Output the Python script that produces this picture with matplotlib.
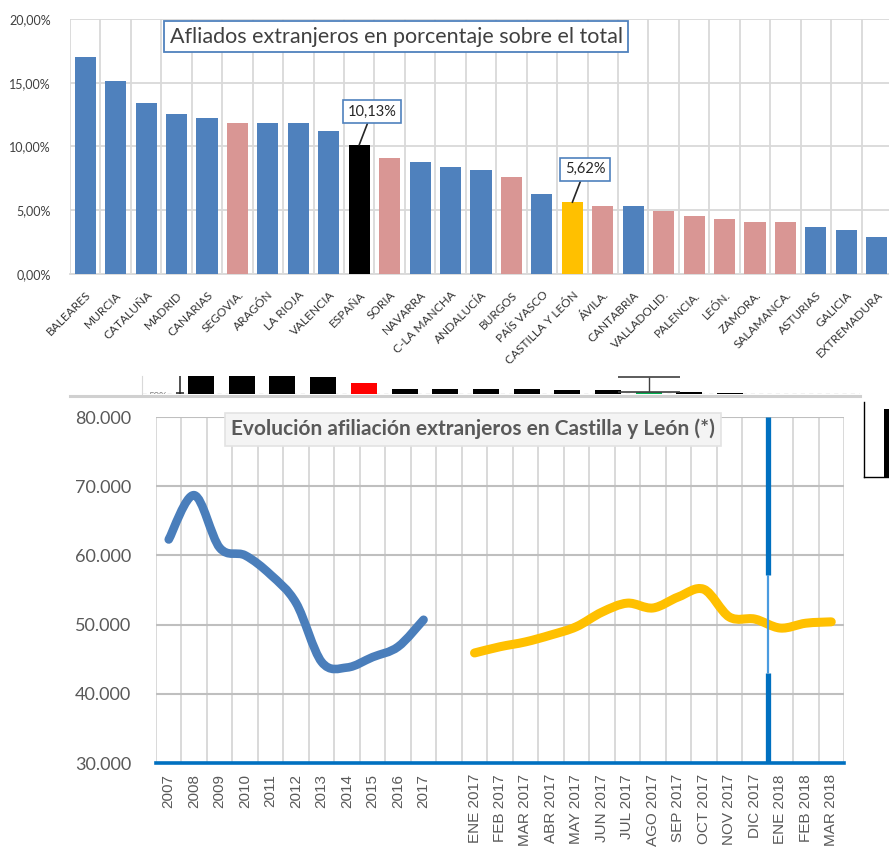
import numpy as np
import matplotlib
matplotlib.use('Agg')
import matplotlib.pyplot as plt
from matplotlib.path import Path
from matplotlib.patches import PathPatch
from matplotlib.ticker import FuncFormatter, MultipleLocator

plt.rcParams['font.family'] = ['Lato', 'DejaVu Sans']

# afiliados extranjeros en porcentaje sobre el total (por territorio)
territorios = ['BALEARES', 'MURCIA', 'CATALUÑA', 'MADRID', 'CANARIAS', 'SEGOVIA.', 'ARAGÓN',
               'LA RIOJA', 'VALENCIA', 'ESPAÑA', 'SORIA', 'NAVARRA', 'C-LA MANCHA', 'ANDALUCÍA',
               'BURGOS', 'PAÍS VASCO', 'CASTILLA Y LEÓN', 'ÁVILA.', 'CANTABRIA', 'VALLADOLID.',
               'PALENCIA.', 'LEÓN.', 'ZAMORA.', 'SALAMANCA.', 'ASTURIAS', 'GALICIA', 'EXTREMADURA']
porcentaje = [17.04, 15.16, 13.44, 12.52, 12.26, 11.87, 11.87, 11.87, 11.19, 10.13, 9.10, 8.81,
              8.42, 8.16, 7.63, 6.25, 5.62, 5.33, 5.33, 4.97, 4.58, 4.31, 4.05, 4.05, 3.71, 3.45, 2.93]
tipo = ['ccaa', 'ccaa', 'ccaa', 'ccaa', 'ccaa', 'prov', 'ccaa', 'ccaa', 'ccaa', 'esp', 'prov', 'ccaa',
        'ccaa', 'ccaa', 'prov', 'ccaa', 'cyl', 'prov', 'ccaa', 'prov', 'prov', 'prov', 'prov', 'prov',
        'ccaa', 'ccaa', 'ccaa']
colores = {'ccaa': '#4F81BD', 'prov': '#D99694', 'esp': '#000000', 'cyl': '#FFC000'}
etiquetas = {'ESPAÑA': '10,13%', 'CASTILLA Y LEÓN': '5,62%'}

# evolución afiliación extranjeros en Castilla y León
anios = ['2007', '2008', '2009', '2010', '2011', '2012', '2013', '2014', '2015', '2016', '2017']
afil_anual = [62300, 68700, 61100, 60000, 57200, 53100, 44600, 43800, 45300, 46800, 50700]
meses = ['ENE 2017', 'FEB 2017', 'MAR 2017', 'ABR 2017', 'MAY 2017', 'JUN 2017', 'JUL 2017',
         'AGO 2017', 'SEP 2017', 'OCT 2017', 'NOV 2017', 'DIC 2017', 'ENE 2018', 'FEB 2018', 'MAR 2018']
afil_mensual = [45900, 46800, 47500, 48500, 49700, 51800, 53100, 52400, 54000, 55100, 51100,
                50800, 49500, 50200, 50400]

# tira recortada de otro gráfico (entre los dos)
tira_alturas = [25, 25, 25, 17, 11, 5, 5, 5, 5, 4, 4, 2, 2, 0.7]
tira_colores = ['k', 'k', 'k', 'k', '#FF0000', 'k', 'k', 'k', 'k', 'k', 'k', '#00B050', 'k', 'k']


def linea_suave(ax, x, y, color, lw):
    # curva suavizada tipo Excel (Bezier por tramos sobre los puntos)
    x = np.asarray(x, float)
    y = np.asarray(y, float)
    xp = np.concatenate([[x[0]], x, [x[-1]]])
    yp = np.concatenate([[y[0]], y, [y[-1]]])
    verts = [(x[0], y[0])]
    codes = [Path.MOVETO]
    for i in range(len(x) - 1):
        c1 = (x[i] + (xp[i + 2] - xp[i]) / 6, y[i] + (yp[i + 2] - yp[i]) / 6)
        c2 = (x[i + 1] - (xp[i + 3] - xp[i + 1]) / 6, y[i + 1] - (yp[i + 3] - yp[i + 1]) / 6)
        verts += [c1, c2, (x[i + 1], y[i + 1])]
        codes += [Path.CURVE4] * 3
    ax.add_patch(PathPatch(Path(verts, codes), fill=False, ec=color, lw=lw,
                           capstyle='round', joinstyle='round', zorder=4))


W, H = 889, 847
fig = plt.figure(figsize=(W / 100, H / 100), dpi=100)


def caja(l, t, r, b):
    return [l / W, 1 - b / H, (r - l) / W, (b - t) / H]


# ---------------- gráfico de barras ----------------
ax1 = fig.add_axes(caja(70, 19, 892, 274))
x1 = np.arange(len(territorios))
ax1.bar(x1, porcentaje, width=0.69, color=[colores[t] for t in tipo], zorder=3)
ax1.set_xlim(-0.5, len(territorios) - 0.5)
ax1.set_ylim(0, 20)
ax1.yaxis.set_major_locator(MultipleLocator(5))
ax1.yaxis.set_major_formatter(FuncFormatter(lambda v, p: f'{v:.2f}%'.replace('.', ',')))
ax1.set_xticks(x1 - 0.5, minor=True)
ax1.set_xticks(x1)
ax1.set_xticklabels(territorios, rotation=45, ha='right', rotation_mode='anchor',
                    fontsize=8.6, color='#333333')
ax1.grid(True, axis='y', color='#D9D9D9', lw=1.3, zorder=0)
ax1.grid(True, axis='x', which='minor', color='#D9D9D9', lw=1.3, zorder=0)
ax1.tick_params(axis='x', which='both', length=0, pad=11)
ax1.tick_params(axis='y', length=0, labelsize=9, labelcolor='#404040', pad=14)
for s in ['top', 'right', 'left']:
    ax1.spines[s].set_visible(False)
ax1.spines['bottom'].set_color('#D9D9D9')
ax1.spines['bottom'].set_linewidth(1.3)
for i, t in enumerate(territorios):
    if t in etiquetas:
        ax1.annotate(etiquetas[t], xy=(i, porcentaje[i]), xytext=(i + 0.42, porcentaje[i] + 2.6),
                     ha='center', va='center', fontsize=10.5, color='#262626', zorder=5,
                     bbox=dict(boxstyle='square,pad=0.3', fc='white', ec='#4F81BD', lw=1.2),
                     arrowprops=dict(arrowstyle='-', color='#262626', lw=1.2, shrinkA=0, shrinkB=0))
ax1.text(0.397, 0.931, 'Afliados extranjeros en porcentaje sobre el total', transform=ax1.transAxes,
         ha='center', va='center', fontsize=15.5, color='#404040', zorder=6,
         bbox=dict(boxstyle='square,pad=0.25', fc='white', ec='#4F81BD', lw=1.3))

# ---------------- marco del gráfico inferior ----------------
axf = fig.add_axes(caja(70, 396, 860, 847))
axf.set_xticks([])
axf.set_yticks([])
for s in ['bottom', 'right', 'left']:
    axf.spines[s].set_visible(False)
axf.spines['top'].set_color('#D0D0D0')
axf.spines['top'].set_linewidth(2.2)

# ---------------- tira recortada ----------------
axs = fig.add_axes(caja(142, 376, 860, 394))
xs = np.arange(len(tira_alturas))
axs.bar(xs, tira_alturas, width=0.64, color=tira_colores, zorder=3)
axs.errorbar([11], [2], yerr=[[0], [15]], fmt='none', ecolor='#404040', elinewidth=1,
             capsize=22, capthick=1.2, zorder=4)
axs.vlines([-0.52], 0, 20, color='#202020', lw=1.1)
axs.hlines([0.8], -0.62, -0.42, color='#202020', lw=1.1)
axs.axhline(0.3, color='#BFBFBF', lw=1, ls=(0, (3, 3)), zorder=1)
axs.text(-1.3, -2.5, '50%', fontsize=7, color='#808080', va='center', clip_on=True)
axs.set_xlim(-1.45, 16.19)
axs.set_ylim(0, 18)
axs.set_xticks([])
axs.set_yticks([])
axs.patch.set_alpha(0)
for s in ['top', 'right', 'bottom']:
    axs.spines[s].set_visible(False)
axs.spines['left'].set_color('#D9D9D9')

# fragmento a la derecha
axr = fig.add_axes(caja(864, 402, 900, 477))
axr.bar([0.95], [0.91], width=0.8, color='k')
axr.set_xlim(0, 1)
axr.set_ylim(0, 1)
axr.set_xticks([])
axr.set_yticks([])
for s in ['top', 'right']:
    axr.spines[s].set_visible(False)
axr.spines['left'].set_linewidth(1)
axr.spines['bottom'].set_linewidth(1)

# ---------------- evolución Castilla y León ----------------
ax2 = fig.add_axes(caja(156, 417, 844, 763))
n_anual = len(anios)
x_anual = np.arange(n_anual)
x_mes = np.arange(len(meses)) + n_anual + 1
todas = anios + [''] + meses
n_tot = len(todas)
ax2.set_xlim(-0.5, n_tot - 0.5)
ax2.set_ylim(30000, 80000)
linea_suave(ax2, x_anual, afil_anual, '#4A7EBB', 6.2)
linea_suave(ax2, x_mes, afil_mensual, '#FFC000', 6.5)
corte = x_mes[meses.index('ENE 2018')] - 0.5
ax2.vlines([corte], 57200, 80000, color='#0070C0', lw=3.8, zorder=5)
ax2.vlines([corte], 43000, 57200, color='#4A9BE0', lw=1.6, zorder=5)
ax2.vlines([corte], 30000, 43000, color='#0070C0', lw=3.8, zorder=5)
ax2.yaxis.set_major_locator(MultipleLocator(10000))
ax2.yaxis.set_major_formatter(FuncFormatter(lambda v, p: f'{v:,.0f}'.replace(',', '.')))
ax2.set_xticks(np.arange(n_tot))
ax2.set_xticklabels(todas, rotation=90, fontsize=11, color='#595959',
                    fontfamily=['Liberation Sans', 'DejaVu Sans'])
ax2.set_xticks(np.arange(n_tot + 1) - 0.5, minor=True)
ax2.grid(True, axis='y', color='#BFBFBF', lw=1.5, zorder=0)
ax2.grid(True, axis='x', which='minor', color='#D9D9D9', lw=1.4, zorder=0)
ax2.tick_params(axis='x', which='both', length=0, pad=8)
ax2.tick_params(axis='y', length=0, labelsize=13, labelcolor='#595959', pad=18)
for s in ['top', 'right', 'left']:
    ax2.spines[s].set_visible(False)
ax2.spines['bottom'].set_color('#0070C0')
ax2.spines['bottom'].set_linewidth(2.6)
ax2.spines['bottom'].set_zorder(6)
ax2.text(0.461, 0.965, 'Evolución afiliación extranjeros en Castilla y León (*)',
         transform=ax2.transAxes, ha='center', va='center', fontsize=15, fontweight='bold',
         color='#595959', zorder=7,
         bbox=dict(boxstyle='square,pad=0.3', fc='#F4F4F4', ec='#E3E3E3', lw=1.2))

fig.savefig('out.png', dpi=100)
